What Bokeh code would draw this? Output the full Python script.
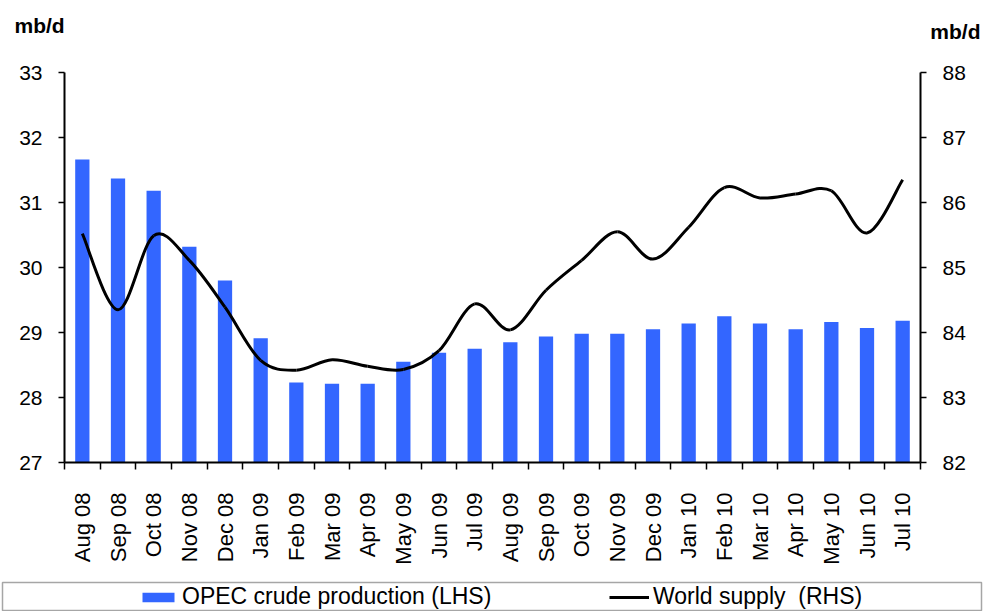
import math
from bokeh.plotting import figure
from bokeh.layouts import column, row
from bokeh.models import (Range1d, LinearAxis, FixedTicker, Legend, LegendItem, Label)
from bokeh.embed import file_html
from bokeh.resources import INLINE

months = ["Aug 08", "Sep 08", "Oct 08", "Nov 08", "Dec 08", "Jan 09", "Feb 09",
          "Mar 09", "Apr 09", "May 09", "Jun 09", "Jul 09", "Aug 09", "Sep 09",
          "Oct 09", "Nov 09", "Dec 09", "Jan 10", "Feb 10", "Mar 10", "Apr 10",
          "May 10", "Jun 10", "Jul 10"]
opec = [31.66, 31.37, 31.18, 30.32, 29.80, 28.91, 28.23, 28.21, 28.21, 28.55,
        28.69, 28.75, 28.85, 28.94, 28.98, 28.98, 29.05, 29.14, 29.25, 29.14,
        29.05, 29.16, 29.07, 29.18]
world = [85.52, 84.35, 85.49, 85.11, 84.39, 83.57, 83.42, 83.58, 83.48, 83.43,
         83.72, 84.44, 84.04, 84.65, 85.11, 85.55, 85.13, 85.62, 86.23, 86.07,
         86.13, 86.18, 85.53, 86.35]
left_ticks = [27, 28, 29, 30, 31, 32, 33]
right_ticks = [82, 83, 84, 85, 86, 87, 88]
series_names = ["OPEC crude production (LHS)", "World supply  (RHS)"]
unit = "mb/d"

n = len(months)
xc = [i + 0.5 for i in range(n)]

FONT = "Liberation Sans"
BLUE = "#3366FF"

p = figure(width=983, height=581, output_backend="svg", toolbar_location=None,
           x_range=Range1d(0, n), y_range=Range1d(left_ticks[0], left_ticks[-1]),
           min_border_left=64, min_border_right=63, min_border_top=72,
           min_border_bottom=119)
p.extra_y_ranges = {"right": Range1d(right_ticks[0], right_ticks[-1])}
p.outline_line_color = None
p.xgrid.visible = False
p.ygrid.visible = False
p.background_fill_color = "white"
p.border_fill_color = "white"

p.vbar(x=xc, top=opec, bottom=left_ticks[0], width=0.4,
       fill_color=BLUE, line_color=None)

# Smoothed line (Catmull-Rom -> cubic Bezier segments, like spreadsheet smoothing)
x0s, y0s, x1s, y1s, cx0s, cy0s, cx1s, cy1s = [], [], [], [], [], [], [], []
for i in range(n - 1):
    pa = (xc[max(i - 1, 0)], world[max(i - 1, 0)])
    pb = (xc[i], world[i])
    pc = (xc[i + 1], world[i + 1])
    pd = (xc[min(i + 2, n - 1)], world[min(i + 2, n - 1)])
    x0s.append(pb[0]); y0s.append(pb[1])
    x1s.append(pc[0]); y1s.append(pc[1])
    cx0s.append(pb[0] + (pc[0] - pa[0]) / 6.0)
    cy0s.append(pb[1] + (pc[1] - pa[1]) / 6.0)
    cx1s.append(pc[0] - (pd[0] - pb[0]) / 6.0)
    cy1s.append(pc[1] - (pd[1] - pb[1]) / 6.0)
p.bezier(x0=x0s, y0=y0s, x1=x1s, y1=y1s, cx0=cx0s, cy0=cy0s,
         cx1=cx1s, cy1=cy1s, line_color="black", line_width=3,
         y_range_name="right")

# X axis: labels at bar centres, ticks at category boundaries
xa = p.xaxis[0]
xa.ticker = FixedTicker(ticks=xc, minor_ticks=list(range(n + 1)))
xa.major_label_overrides = {v: m for v, m in zip(xc, months)}
xa.major_label_orientation = math.pi / 2
xa.major_tick_out = 0
xa.major_tick_in = 0
xa.minor_tick_out = 7
xa.minor_tick_in = 0
xa.minor_tick_line_color = "black"
xa.minor_tick_line_width = 1.5
xa.axis_line_width = 2
xa.axis_line_color = "black"
xa.major_label_text_font = FONT
xa.major_label_text_font_size = "22px"
xa.major_label_text_color = "black"
xa.major_label_standoff = 23

ya = p.yaxis[0]
ya.ticker = FixedTicker(ticks=left_ticks, minor_ticks=[])
ya.major_tick_out = 6
ya.major_tick_in = 0
ya.major_tick_line_width = 1.5
ya.axis_line_width = 2
ya.major_label_text_font = FONT
ya.major_label_text_font_size = "21px"
ya.major_label_text_color = "black"
ya.major_label_standoff = 16

ra = LinearAxis(y_range_name="right", ticker=FixedTicker(ticks=right_ticks, minor_ticks=[]))
ra.major_tick_out = 6
ra.major_tick_in = 0
ra.major_tick_line_width = 1.5
ra.axis_line_width = 2
ra.major_label_text_font = FONT
ra.major_label_text_font_size = "21px"
ra.major_label_text_color = "black"
ra.major_label_standoff = 16
p.add_layout(ra, "right")

p.add_layout(Label(x=14, y=13, x_units="canvas", y_units="canvas", text=unit,
                   text_font=FONT, text_font_size="21px", text_font_style="bold",
                   text_color="black", text_baseline="top", text_align="left"), "above")
p.add_layout(Label(x=980, y=19, x_units="canvas", y_units="canvas", text=unit,
                   text_font=FONT, text_font_size="21px", text_font_style="bold",
                   text_color="black", text_baseline="top", text_align="right"), "above")

# Legend strip with its own box
q = figure(width=983, height=30, output_backend="svg", toolbar_location=None,
           x_range=Range1d(0, n), y_range=Range1d(0, 1),
           x_axis_location=None, y_axis_location=None,
           min_border_left=2, min_border_right=2,
           min_border_top=1, min_border_bottom=0)
q.outline_line_color = "#A6A6A6"
q.outline_line_width = 1.5
q.xgrid.visible = False
q.ygrid.visible = False

# hidden copies of the two series only supply the legend keys
key_bar = q.vbar(x=xc, top=opec, bottom=left_ticks[0], width=0.4,
                 fill_color=BLUE, line_color=None, visible=False)
key_line = q.line(x=xc, y=world, line_color="black", line_width=3, visible=False)

legend = Legend(items=[LegendItem(label=series_names[0], renderers=[key_bar]),
                       LegendItem(label=series_names[1], renderers=[key_line])],
                location=(136, 1), orientation="horizontal",
                glyph_width=40, glyph_height=12, label_standoff=4,
                label_width=310, spacing=117, padding=0, margin=0,
                border_line_color=None, background_fill_alpha=0,
                label_text_font=FONT, label_text_font_size="23px",
                label_text_color="black", label_height=24)
q.add_layout(legend, "center")

layout = column(p, row(q), spacing=0)
open("out.html", "w").write(file_html(layout, INLINE))
